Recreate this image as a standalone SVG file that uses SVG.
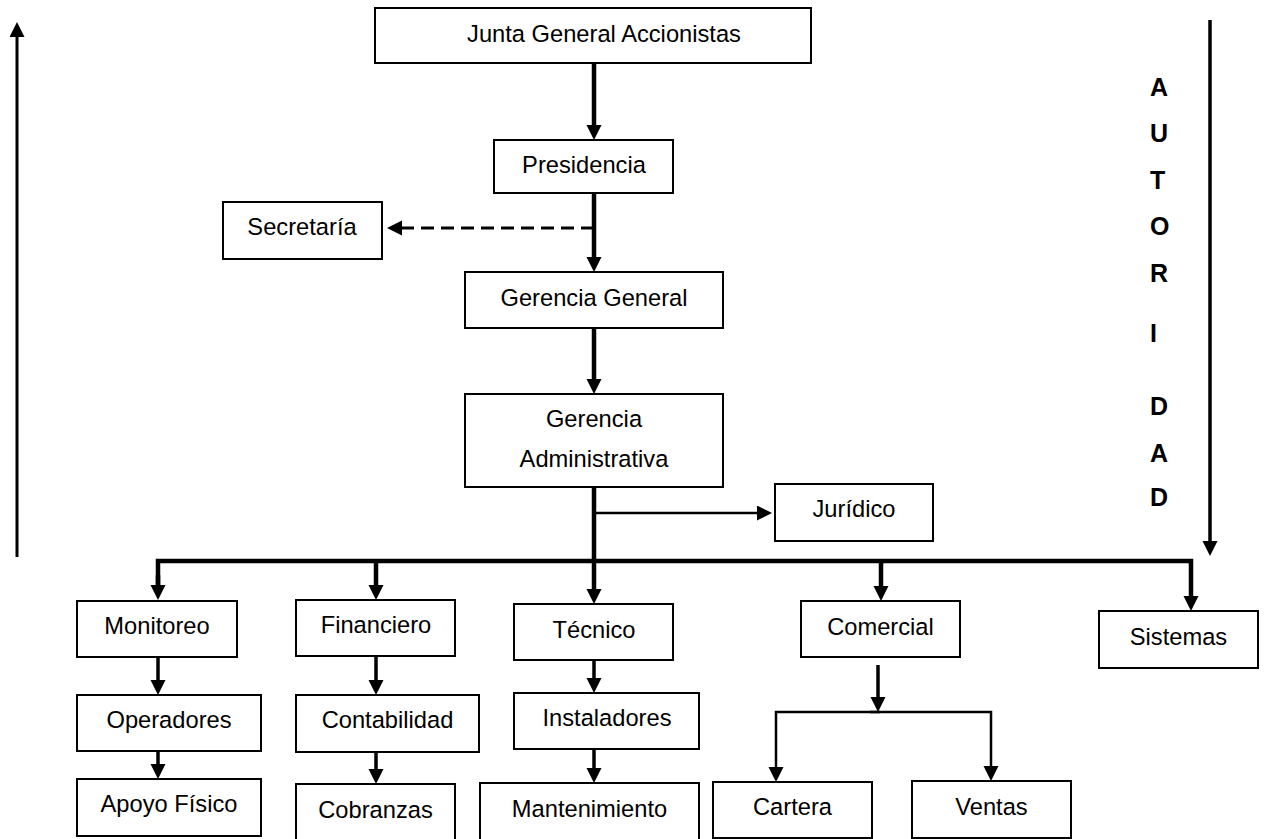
<svg xmlns="http://www.w3.org/2000/svg" width="1264" height="839" viewBox="0 0 1264 839">
<defs>
<style>
.box rect{fill:#fff;stroke:#000;stroke-width:2}
.box text{font-family:"Liberation Sans",Arial,sans-serif;font-size:23.7px;fill:#000;text-anchor:middle}
.c{fill:none;stroke:#000}
.thick{stroke-width:4.5}
.med{stroke-width:3.5}
.thin{stroke-width:2.5}
.auth text{font-family:"Liberation Sans",Arial,sans-serif;font-size:25px;font-weight:bold;fill:#000}
</style>
<marker id="ah" markerUnits="userSpaceOnUse" markerWidth="16" markerHeight="16" refX="0" refY="7.5" orient="auto">
<path d="M0,0 L15,7.5 L0,15 Z" fill="#000"/>
</marker>
</defs>
<rect width="1264" height="839" fill="#fff"/>

<g id="connectors">
<path class="c thick" d="M594,63 V125" marker-end="url(#ah)"/>
<path class="c thick" d="M594,193 V257" marker-end="url(#ah)"/>
<path class="c" stroke-width="3" stroke-dasharray="13 7" d="M594,228 H402" marker-end="url(#ah)"/>
<path class="c thick" d="M594,328 V379" marker-end="url(#ah)"/>
<path class="c thick" d="M594,487 V589" marker-end="url(#ah)"/>
<path class="c thin" d="M594,513 H757" marker-end="url(#ah)"/>
<path class="c thick" d="M158,585 V561 H1191 V596" marker-end="url(#ah)"/>
<path class="c thick" d="M158,575 V585" marker-end="url(#ah)"/>
<path class="c thick" d="M376,561 V585" marker-end="url(#ah)"/>
<path class="c thick" d="M881,561 V586" marker-end="url(#ah)"/>
<path class="c med" d="M158,657 V680" marker-end="url(#ah)"/>
<path class="c med" d="M158,751 V764" marker-end="url(#ah)"/>
<path class="c med" d="M376,656 V680" marker-end="url(#ah)"/>
<path class="c med" d="M376,752 V769" marker-end="url(#ah)"/>
<path class="c med" d="M594,660 V678" marker-end="url(#ah)"/>
<path class="c med" d="M594,749 V768" marker-end="url(#ah)"/>
<path class="c med" d="M878,665 V697" marker-end="url(#ah)"/>
<path class="c thin" d="M880,712 H776 V767" marker-end="url(#ah)"/>
<path class="c thin" d="M870,712 H991 V766" marker-end="url(#ah)"/>
<path class="c" stroke-width="3" d="M17,557 V37" marker-end="url(#ah)"/>
<path class="c med" d="M1210,20 V541" marker-end="url(#ah)"/>
</g>

<g id="junta" class="box"><rect x="375" y="8" width="436" height="55"/><text x="604" y="42">Junta General Accionistas</text></g>
<g id="presidencia" class="box"><rect x="494" y="140" width="179" height="53"/><text x="584" y="173">Presidencia</text></g>
<g id="secretaria" class="box"><rect x="223" y="202" width="159" height="57"/><text x="302" y="235">Secretaría</text></g>
<g id="gerencia-general" class="box"><rect x="465" y="272" width="258" height="56"/><text x="594" y="306">Gerencia General</text></g>
<g id="gerencia-administrativa" class="box"><rect x="465" y="394" width="258" height="93"/><text x="594" y="427">Gerencia</text><text x="594" y="467">Administrativa</text></g>
<g id="juridico" class="box"><rect x="775" y="484" width="158" height="57"/><text x="854" y="517">Jurídico</text></g>
<g id="monitoreo" class="box"><rect x="77" y="601" width="160" height="56"/><text x="157" y="634">Monitoreo</text></g>
<g id="operadores" class="box"><rect x="77" y="695" width="184" height="56"/><text x="169" y="728">Operadores</text></g>
<g id="apoyo-fisico" class="box"><rect x="77" y="779" width="184" height="57"/><text x="169" y="812">Apoyo Físico</text></g>
<g id="financiero" class="box"><rect x="296" y="600" width="159" height="56"/><text x="376" y="633">Financiero</text></g>
<g id="contabilidad" class="box"><rect x="296" y="695" width="183" height="57"/><text x="387.5" y="728">Contabilidad</text></g>
<g id="cobranzas" class="box"><rect x="296" y="784" width="159" height="60"/><text x="375.5" y="818">Cobranzas</text></g>
<g id="tecnico" class="box"><rect x="514" y="604" width="159" height="56"/><text x="594" y="638">Técnico</text></g>
<g id="instaladores" class="box"><rect x="514" y="693" width="185" height="56"/><text x="607" y="726">Instaladores</text></g>
<g id="mantenimiento" class="box"><rect x="480" y="783" width="219" height="60"/><text x="589.5" y="817">Mantenimiento</text></g>
<g id="comercial" class="box"><rect x="801" y="601" width="159" height="56"/><text x="880.5" y="635">Comercial</text></g>
<g id="cartera" class="box"><rect x="713" y="782" width="159" height="56"/><text x="792.5" y="815">Cartera</text></g>
<g id="ventas" class="box"><rect x="912" y="781" width="159" height="57"/><text x="991.5" y="815">Ventas</text></g>
<g id="sistemas" class="box"><rect x="1099" y="611" width="159" height="57"/><text x="1178.5" y="645">Sistemas</text></g>

<g id="autoridad" class="auth">
<text x="1150" y="96">A</text>
<text x="1150" y="142">U</text>
<text x="1150" y="189">T</text>
<text x="1150" y="235">O</text>
<text x="1150" y="282">R</text>
<text x="1150" y="342">I</text>
<text x="1150" y="415">D</text>
<text x="1150" y="462">A</text>
<text x="1150" y="506">D</text>
</g>
</svg>
